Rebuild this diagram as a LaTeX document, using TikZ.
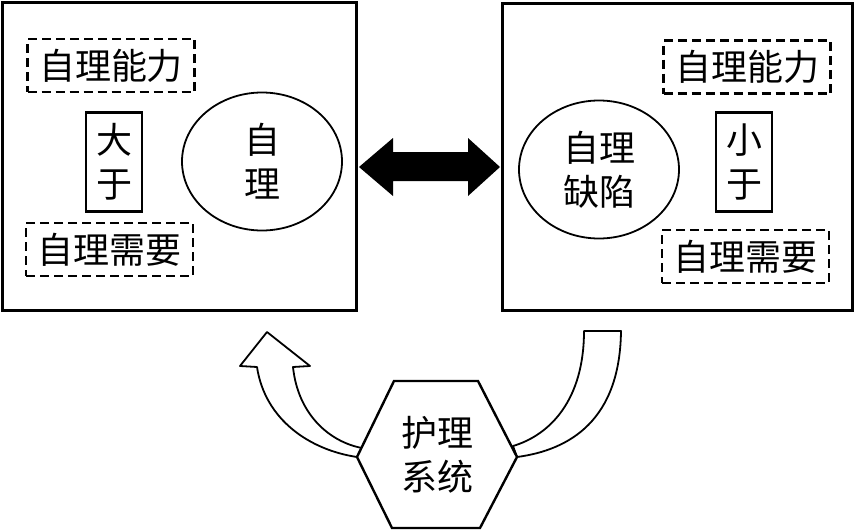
\documentclass[tikz,border=0pt]{standalone}
\usepackage{fontspec}
\usetikzlibrary{shapes.geometric}
\newfontfamily\cjk{Noto Sans CJK SC}
\begin{document}
\begin{tikzpicture}[x=1pt,y=-1pt,
  every node/.style={inner sep=0pt,outer sep=0pt},
  txt/.style={font=\cjk\fontsize{36}{44}\selectfont},
  bigbox/.style={draw,line width=3pt},
  dbox/.style={txt,draw,line width=2.3pt,dash pattern=on 9pt off 5pt,minimum width=167pt,minimum height=53pt},
  vbox/.style={txt,draw,line width=2.6pt,minimum width=56pt,minimum height=99pt,align=center},
  ell/.style={txt,draw,ellipse,line width=1.8pt,minimum width=160pt,minimum height=138pt,align=center},
  band/.style={draw,fill=white,line width=1.8pt,line join=round}]
\useasboundingbox (0,0) rectangle (855,530);
% outer boxes
\node[bigbox,minimum width=354pt,minimum height=308pt] (L) at (179.5,156.5) {};
\node[bigbox,minimum width=350pt,minimum height=307pt] (R) at (677,156.5) {};
% left content
\node[dbox] (lcap) at (111,65.5) {自理能力};
\node[dbox] (lneed) at (109.5,249.5) {自理需要};
\node[vbox] (gt) at (114,162) {大\\于};
\node[ell] (lself) at (262,161.5) {自\\理};
% right content
\node[dbox] (rcap) at (747,67) {自理能力};
\node[dbox] (rneed) at (745.5,256.5) {自理需要};
\node[vbox] (lt) at (744,162) {小\\于};
\node[ell] (rdef) at (599,169.5) {自理\\缺陷};
% double arrow between boxes
\fill[black] (359,167) -- (393,138) -- (393,152) -- (468,152) -- (468,138) -- (500,167)
  -- (468,196) -- (468,181) -- (393,181) -- (393,196) -- cycle;
% curved arrows
\draw[band] (257,367) .. controls (265,420) and (310,450) .. (357,457)
  -- (362,448) .. controls (330,442) and (298,415) .. (293,367)
  -- (310,366) -- (267,332) -- (240,366) -- cycle;
\draw[band] (584,331) -- (621,331) .. controls (620,420) and (570,450) .. (517,457)
  -- (513,446) .. controls (550,435) and (584,400) .. (584,331) -- cycle;
% hexagon
\coordinate (h1) at (394,381); \coordinate (h2) at (478,381);
\coordinate (h3) at (517,457); \coordinate (h4) at (480,528);
\coordinate (h5) at (392,528); \coordinate (h6) at (357,457);
\draw[fill=white,line width=2.4pt,line join=miter] (h1) -- (h2) -- (h3) -- (h4) -- (h5) -- (h6) -- cycle;
\node[txt,align=center] (nurse) at (437,455) {护理\\系统};
\end{tikzpicture}
\end{document}
